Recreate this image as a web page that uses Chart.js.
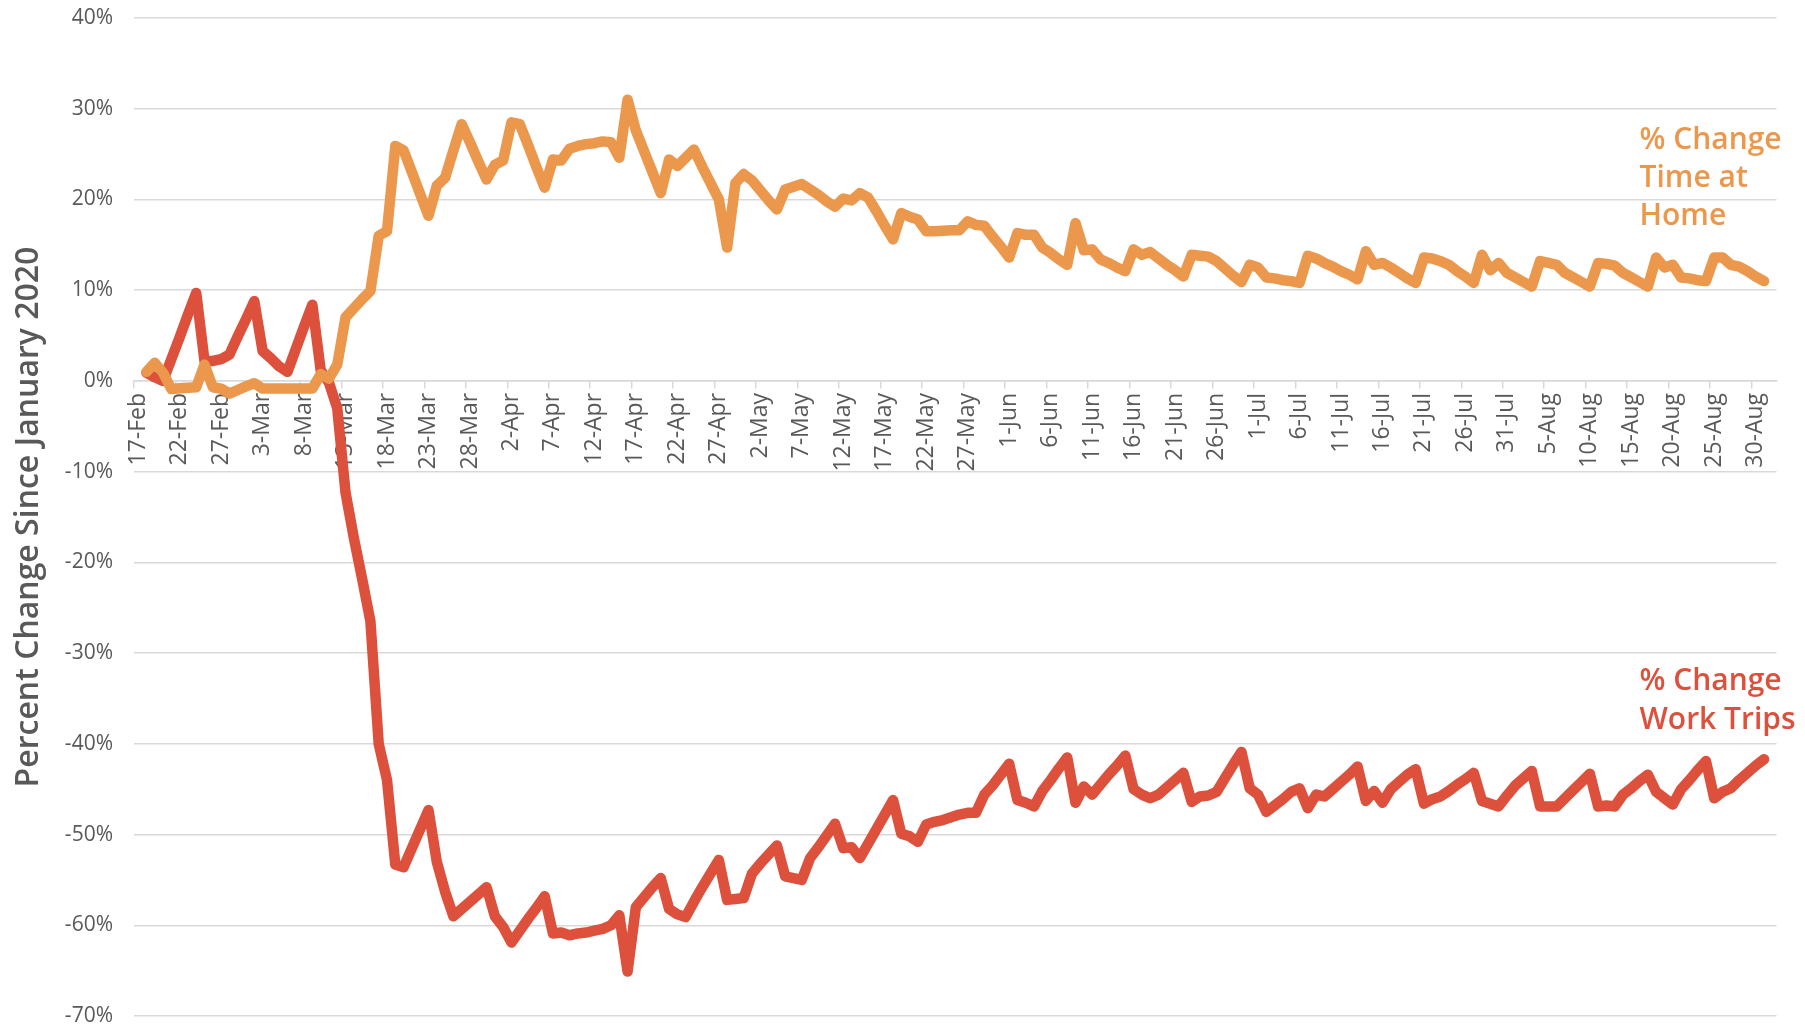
<!DOCTYPE html>
<html>
<head>
<meta charset="utf-8">
<title>Percent Change Since January 2020</title>
<script src="https://cdn.jsdelivr.net/npm/chart.js@4.4.1/dist/chart.umd.min.js"></script>
<style>
  html, body { margin: 0; padding: 0; background: #fff; }
  #wrap { position: relative; width: 1805px; height: 1032px; }
</style>
</head>
<body>
<div id="wrap"><canvas id="mobility"></canvas></div>
<script>
// Daily categories, 17-Feb to 1-Sep 2020 (label shown every 5th day)
const dayLabels = [
  '17-Feb','18-Feb','19-Feb','20-Feb','21-Feb','22-Feb','23-Feb','24-Feb','25-Feb','26-Feb','27-Feb','28-Feb','29-Feb',
  '1-Mar','2-Mar','3-Mar','4-Mar','5-Mar','6-Mar','7-Mar','8-Mar','9-Mar','10-Mar','11-Mar','12-Mar','13-Mar','14-Mar','15-Mar','16-Mar',
  '17-Mar','18-Mar','19-Mar','20-Mar','21-Mar','22-Mar','23-Mar','24-Mar','25-Mar','26-Mar','27-Mar','28-Mar','29-Mar','30-Mar','31-Mar',
  '1-Apr','2-Apr','3-Apr','4-Apr','5-Apr','6-Apr','7-Apr','8-Apr','9-Apr','10-Apr','11-Apr','12-Apr','13-Apr','14-Apr','15-Apr',
  '16-Apr','17-Apr','18-Apr','19-Apr','20-Apr','21-Apr','22-Apr','23-Apr','24-Apr','25-Apr','26-Apr','27-Apr','28-Apr','29-Apr','30-Apr',
  '1-May','2-May','3-May','4-May','5-May','6-May','7-May','8-May','9-May','10-May','11-May','12-May','13-May','14-May','15-May','16-May',
  '17-May','18-May','19-May','20-May','21-May','22-May','23-May','24-May','25-May','26-May','27-May','28-May','29-May','30-May','31-May',
  '1-Jun','2-Jun','3-Jun','4-Jun','5-Jun','6-Jun','7-Jun','8-Jun','9-Jun','10-Jun','11-Jun','12-Jun','13-Jun','14-Jun','15-Jun',
  '16-Jun','17-Jun','18-Jun','19-Jun','20-Jun','21-Jun','22-Jun','23-Jun','24-Jun','25-Jun','26-Jun','27-Jun','28-Jun','29-Jun','30-Jun',
  '1-Jul','2-Jul','3-Jul','4-Jul','5-Jul','6-Jul','7-Jul','8-Jul','9-Jul','10-Jul','11-Jul','12-Jul','13-Jul','14-Jul','15-Jul','16-Jul',
  '17-Jul','18-Jul','19-Jul','20-Jul','21-Jul','22-Jul','23-Jul','24-Jul','25-Jul','26-Jul','27-Jul','28-Jul','29-Jul','30-Jul','31-Jul',
  '1-Aug','2-Aug','3-Aug','4-Aug','5-Aug','6-Aug','7-Aug','8-Aug','9-Aug','10-Aug','11-Aug','12-Aug','13-Aug','14-Aug','15-Aug','16-Aug',
  '17-Aug','18-Aug','19-Aug','20-Aug','21-Aug','22-Aug','23-Aug','24-Aug','25-Aug','26-Aug','27-Aug','28-Aug','29-Aug','30-Aug','31-Aug',
  '1-Sep'
];

// % change time at home (one value per day)
const homeValues = [
  null, 1.0, 2.0, 0.9, -0.9, -0.8, -0.75, -0.7, 1.8, -0.7,
  -0.85, -1.4, -1.0, -0.6, -0.25, -0.85, -0.85, -0.85, -0.85, -0.85,
  -0.85, -0.85, 0.75, 0.25, 1.8, 7.0, 8.0, 9.0, 9.9, 16.0,
  16.5, 25.9, 25.4, 23.0, 20.6, 18.2, 21.5, 22.4, 25.4, 28.3,
  26.3, 24.2, 22.2, 23.8, 24.3, 28.5, 28.3, 26.0, 23.6, 21.3,
  24.4, 24.3, 25.6, 25.9, 26.1, 26.2, 26.4, 26.3, 24.6, 31.0,
  27.6, 25.3, 23.0, 20.7, 24.4, 23.7, 24.6, 25.5, 23.6, 21.8,
  20.0, 14.7, 21.8, 22.8, 22.1, 21.0, 19.9, 18.9, 21.1, 21.4,
  21.7, 21.1, 20.5, 19.8, 19.2, 20.1, 19.9, 20.7, 20.2, 18.7,
  17.1, 15.6, 18.5, 18.1, 17.8, 16.5, 16.5, 16.55, 16.6, 16.6,
  17.6, 17.2, 17.1, 15.9, 14.8, 13.6, 16.3, 16.1, 16.1, 14.7,
  14.1, 13.4, 12.8, 17.4, 14.4, 14.5, 13.4, 13.0, 12.5, 12.1,
  14.5, 13.9, 14.2, 13.5, 12.8, 12.2, 11.5, 13.9, 13.8, 13.7,
  13.2, 12.4, 11.6, 10.9, 12.8, 12.5, 11.4, 11.3, 11.1, 11.0,
  10.8, 13.8, 13.5, 13.0, 12.6, 12.1, 11.7, 11.2, 14.3, 12.8,
  13.0, 12.5, 11.9, 11.3, 10.8, 13.6, 13.5, 13.2, 12.8, 12.1,
  11.5, 10.8, 13.9, 12.2, 13.0, 11.9, 11.4, 10.9, 10.4, 13.2,
  13.0, 12.8, 11.9, 11.4, 10.9, 10.4, 13.0, 12.9, 12.7, 11.9,
  11.4, 10.9, 10.4, 13.6, 12.5, 12.8, 11.4, 11.3, 11.1, 11.0,
  13.6, 13.6, 12.8, 12.6, 12.1, 11.5, 11.0, null
];

// % change work trips
const workValues = [
  null, 0.9, 0.4, 0.0, 2.4, 4.8, 7.3, 9.7, 2.2, 2.2,
  2.4, 2.9, 4.9, 6.8, 8.8, 3.3, 2.5, 1.6, 1.0, 3.5,
  6.0, 8.4, 1.2, -0.2, -3.0, -12.3, -17.3, -21.8, -26.5, -40.0,
  -44.0, -53.3, -53.6, -51.5, -49.4, -47.3, -53.0, -56.3, -59.0, -58.2,
  -57.4, -56.6, -55.8, -59.0, -60.2, -61.9, -60.6, -59.3, -58.1, -56.8,
  -60.9, -60.8, -61.1, -60.9, -60.8, -60.6, -60.4, -60.0, -58.9, -65.1,
  -58.0, -56.9, -55.8, -54.8, -58.2, -58.8, -59.1, -57.4, -55.8, -54.3,
  -52.8, -57.2, -57.1, -57.0, -54.3, -53.2, -52.2, -51.2, -54.6, -54.8,
  -55.0, -52.6, -51.4, -50.1, -48.8, -51.5, -51.4, -52.6, -51.0, -49.4,
  -47.8, -46.2, -49.9, -50.2, -50.8, -48.9, -48.6, -48.4, -48.1, -47.8,
  -47.6, -47.6, -45.6, -44.6, -43.4, -42.2, -46.2, -46.5, -46.9, -45.2,
  -44.0, -42.7, -41.5, -46.5, -44.7, -45.6, -44.5, -43.4, -42.4, -41.3,
  -45.0, -45.6, -46.0, -45.6, -44.8, -44.0, -43.2, -46.4, -45.8, -45.7,
  -45.3, -43.8, -42.3, -40.9, -44.9, -45.6, -47.5, -46.8, -46.1, -45.3,
  -44.9, -47.1, -45.6, -45.8, -45.0, -44.2, -43.4, -42.5, -46.3, -45.2,
  -46.5, -45.0, -44.2, -43.4, -42.8, -46.6, -46.1, -45.8, -45.2, -44.5,
  -43.9, -43.2, -46.3, -46.6, -46.9, -45.7, -44.6, -43.8, -43.0, -46.9,
  -46.9, -46.9, -46.0, -45.1, -44.2, -43.3, -46.9, -46.8, -46.9, -45.6,
  -44.9, -44.1, -43.4, -45.3, -46.0, -46.7, -45.0, -44.0, -42.9, -41.9,
  -46.0, -45.3, -44.9, -44.0, -43.2, -42.4, -41.7, null
];

const homeNote = ['% Change', 'Time at', 'Home'];
const workNote = ['% Change', 'Work Trips'];

const HOME_COLOR = '#EB974C';
const WORK_COLOR = '#DC503C';
const TEXT_GRAY = '#595959';
const GRID_GRAY = '#d9d9d9';

Chart.defaults.font.family = "'Open Sans', sans-serif";

// Series names written at the right-hand side of the plot
const seriesNotes = {
    id: 'seriesNotes',
    afterDatasetsDraw(chart) {
        const { ctx, chartArea } = chart;
        const x = chartArea.right - 137;
        ctx.save();
        ctx.font = "600 30px 'Open Sans', sans-serif";
        ctx.textBaseline = 'middle';
        ctx.textAlign = 'left';
        ctx.fillStyle = HOME_COLOR;
        homeNote.forEach((t, i) => ctx.fillText(t, x, 140 + i * 38));
        ctx.fillStyle = WORK_COLOR;
        workNote.forEach((t, i) => ctx.fillText(t, x, 681.5 + i * 39));
        ctx.restore();
    }
};

new Chart(document.getElementById('mobility'), {
    type: 'line',
    data: {
        labels: dayLabels,
        datasets: [
            {
                label: '% Change Time at Home',
                data: homeValues,
                borderColor: HOME_COLOR,
                borderWidth: 10.5,
                borderJoinStyle: 'round',
                borderCapStyle: 'round',
                pointRadius: 0,
                tension: 0,
                fill: false
            },
            {
                label: '% Change Work Trips',
                data: workValues,
                borderColor: WORK_COLOR,
                borderWidth: 10.5,
                borderJoinStyle: 'round',
                borderCapStyle: 'round',
                pointRadius: 0,
                tension: 0,
                fill: false
            }
        ]
    },
    options: {
        responsive: true,
        maintainAspectRatio: false,
        animation: false,
        layout: { padding: { top: 18, right: 24, bottom: 16, left: 0 } },
        plugins: {
            legend: { display: false },
            tooltip: { enabled: false }
        },
        scales: {
            x: {
                position: { y: 0 },
                offset: true,
                ticks: {
                    autoSkip: false,
                    minRotation: 90,
                    maxRotation: 90,
                    padding: 5,
                    color: TEXT_GRAY,
                    font: { size: 23 },
                    callback: (v, i) => (i % 5 === 0 ? dayLabels[i] : '')
                },
                grid: {
                    offset: true,
                    drawOnChartArea: false,
                    tickLength: 7,
                    lineWidth: 1.5,
                    color: (ctx) => (ctx.index % 5 === 0 ? GRID_GRAY : 'rgba(0,0,0,0)')
                },
                border: { display: true, color: GRID_GRAY, width: 1.5 }
            },
            y: {
                min: -70,
                max: 40,
                afterFit: (scale) => { scale.width = 134; },
                ticks: {
                    stepSize: 10,
                    padding: 0,
                    color: TEXT_GRAY,
                    font: { size: 21 },
                    callback: (v) => v + '%'
                },
                // invisible tick marks give the gap between labels and plot
                grid: { color: GRID_GRAY, lineWidth: 1.5, drawTicks: true, tickLength: 21, tickColor: 'rgba(0,0,0,0)' },
                border: { display: false },
                title: {
                    display: true,
                    text: 'Percent Change Since January 2020',
                    color: TEXT_GRAY,
                    font: { size: 32, weight: '600' },
                    padding: { top: 10, bottom: 0 }
                }
            }
        }
    },
    plugins: [seriesNotes]
});
</script>
</body>
</html>
